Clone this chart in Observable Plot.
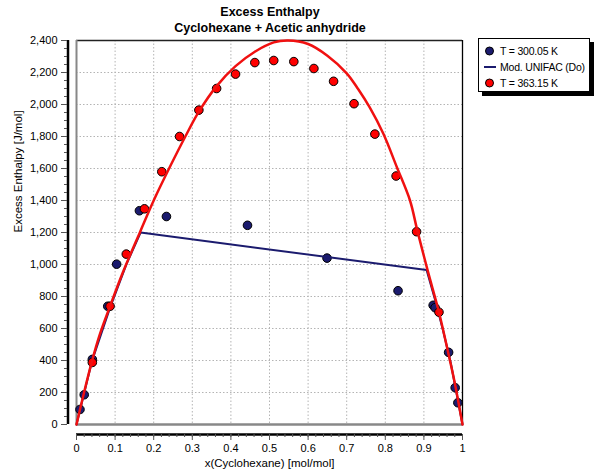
<!DOCTYPE html>
<html>
<head>
<meta charset="utf-8">
<script src="https://cdn.jsdelivr.net/npm/d3@7"></script>
<script src="https://cdn.jsdelivr.net/npm/@observablehq/plot@0.6"></script>
<style>
  body { margin: 0; background: #fff; font-family: "Liberation Sans", Arial, sans-serif; }
  #wrap { position: relative; width: 595px; height: 476px; overflow: hidden; }
  #title { position: absolute; left: 0; top: 4px; width: 540px; text-align: center; font-weight: bold; font-size: 12.5px; line-height: 16px; color: #000; }
  #chart { position: absolute; left: 0; top: 0; }
  #legend { position: absolute; left: 478px; top: 38px; width: 110px; height: 52px; border: 1px solid #000; background: #fff; box-shadow: 4px 4px 0 #000; font-size: 10.5px; }
  .row { position: absolute; left: 5px; height: 14px; line-height: 14px; white-space: nowrap; }
  .row svg { position: absolute; left: 0; top: 0; }
  .row span { position: absolute; left: 16px; top: 0; letter-spacing: -0.2px; }
</style>
</head>
<body>
<div id="wrap">
  <div id="chart"></div>
  <div id="title">Excess Enthalpy<br>Cyclohexane + Acetic anhydride</div>
  <div id="legend"></div>
</div>
<script>
// --- data ---
const blueLabel = "T = 300.05 K";
const modelLabel = "Mod. UNIFAC (Do)";
const redLabel = "T = 363.15 K";

// experimental points, T = 300.05 K
const blueX = [0.009, 0.020, 0.041, 0.081, 0.104, 0.163, 0.233, 0.443, 0.649, 0.833, 0.924, 0.929, 0.964, 0.981, 0.988];
const blueH = [94, 186, 407, 739, 1002, 1336, 1300, 1245, 1040, 836, 745, 730, 451, 230, 136];

// Mod. UNIFAC (Do) model line (300.05 K)
const modelX = [0, 0.04, 0.087, 0.13, 0.166, 0.907, 0.93, 0.95, 0.97, 1];
const modelH = [0, 395, 730, 1005, 1200, 965, 770, 585, 380, 0];

// experimental points, T = 363.15 K
const redX = [0.041, 0.087, 0.129, 0.176, 0.221, 0.267, 0.317, 0.363, 0.412, 0.462, 0.511, 0.563, 0.615, 0.666, 0.719, 0.773, 0.828, 0.881, 0.939];
const redH = [388, 739, 1065, 1348, 1580, 1800, 1965, 2100, 2190, 2262, 2275, 2268, 2225, 2145, 2005, 1815, 1553, 1205, 702];

// red model curve (363.15 K)
const curveX = [0, 0.02, 0.04, 0.06, 0.087, 0.12, 0.165, 0.2, 0.244, 0.282, 0.317, 0.363, 0.412, 0.462, 0.511, 0.548, 0.6, 0.65, 0.7, 0.73, 0.76, 0.795, 0.83, 0.864, 0.883, 0.91, 0.939, 0.963, 0.98, 1];
const curveH = [0, 205, 395, 560, 740, 950, 1205, 1400, 1620, 1800, 1955, 2115, 2240, 2330, 2388, 2400, 2378, 2305, 2195, 2095, 1980, 1817, 1608, 1400, 1212, 960, 702, 449, 260, 0];

// axes
const xTicks = [0, 0.1, 0.2, 0.3, 0.4, 0.5, 0.6, 0.7, 0.8, 0.9, 1];
const xGrid = [0.1, 0.2, 0.3, 0.4, 0.5, 0.6, 0.7, 0.8, 0.9];
const yTicks = [0, 200, 400, 600, 800, 1000, 1200, 1400, 1600, 1800, 2000, 2200, 2400];
const yGrid = [200, 400, 600, 800, 1000, 1200, 1400, 1600, 1800, 2000, 2200];
const xMinor = d3.range(0, 51).map(i => i / 50);
const yMinor = d3.range(0, 49).map(i => i * 50);
const xTitle = "x(Cyclohexane) [mol/mol]";
const yTitle = "Excess Enthalpy [J/mol]";

const navy = "#1b1b6e";
const red = "#ff0000";

const blue = blueX.map((x, i) => ({x, y: blueH[i]}));
const model = modelX.map((x, i) => ({x, y: modelH[i]}));
const reds = redX.map((x, i) => ({x, y: redH[i]}));
const curve = curveX.map((x, i) => ({x, y: curveH[i]}));

const chart = Plot.plot({
  width: 595,
  height: 476,
  marginTop: 40,
  marginBottom: 52,
  marginLeft: 76,
  marginRight: 133,
  style: { fontFamily: "Liberation Sans, Arial, sans-serif", fontSize: "11px", background: "#fff", color: "#000" },
  x: { domain: [0, 1], axis: null },
  y: { domain: [0, 2400], axis: null },
  marks: [
    // dotted grid
    Plot.ruleX(xGrid, { stroke: "#b4b4b4", strokeDasharray: "1.5,2", strokeWidth: 1 }),
    Plot.ruleY(yGrid, { stroke: "#b4b4b4", strokeDasharray: "1.5,2", strokeWidth: 1 }),
    // frame
    Plot.ruleY([2400], { stroke: "#222", strokeWidth: 1.3 }),
    Plot.ruleX([1], { stroke: "#000", strokeWidth: 1.3 }),
    Plot.ruleX([0], { stroke: "#888", strokeWidth: 2 }),
    Plot.ruleY([0], { stroke: "#888", strokeWidth: 2.5 }),
    // detached axis lines
    Plot.ruleX([0], { dx: -8.5, stroke: "#000", strokeWidth: 2.5 }),
    Plot.ruleY([0], { dy: 10, stroke: "#000", strokeWidth: 2.5 }),
    // y axis
    Plot.axisY({ ticks: yMinor, tickSize: 3, dx: -9, tickFormat: () => "", label: null, stroke: "#555" }),
    Plot.axisY({ ticks: yTicks, tickSize: 6, dx: -9, tickPadding: 4, tickFormat: d3.format(","), label: null, stroke: "#555" }),
    // x axis
    Plot.axisX({ anchor: "bottom", ticks: xMinor, tickSize: 3, dy: 10, tickFormat: () => "", label: null, stroke: "#555" }),
    Plot.axisX({ anchor: "bottom", ticks: xTicks, tickSize: 6, dy: 10, tickPadding: 4, tickFormat: d => String(d), label: null, stroke: "#555" }),
    // axis titles
    Plot.text([xTitle], { frameAnchor: "bottom", dy: 42, fontSize: 11.5 }),
    Plot.text([yTitle], { frameAnchor: "left", rotate: -90, dx: -58, fontSize: 11.5 }),
    // data
    Plot.dot(blue, { x: "x", y: "y", r: 4.3, fill: navy, stroke: "#000", strokeWidth: 1 }),
    Plot.line(model, { x: "x", y: "y", stroke: navy, strokeWidth: 2 }),
    Plot.dot(reds, { x: "x", y: "y", r: 4.3, fill: red, stroke: "#000", strokeWidth: 1 }),
    Plot.line(curve, { x: "x", y: "y", stroke: "#f01010", strokeWidth: 2.5, curve: "catmull-rom" })
  ]
});
document.getElementById("chart").appendChild(chart);

// legend
const legend = document.getElementById("legend");
const entries = [
  { label: blueLabel, kind: "dot", color: navy },
  { label: modelLabel, kind: "line", color: navy },
  { label: redLabel, kind: "dot", color: red }
];
entries.forEach((e, i) => {
  const row = document.createElement("div");
  row.className = "row";
  row.style.top = (5 + i * 16) + "px";
  const sym = e.kind === "dot"
    ? `<svg width="14" height="14"><circle cx="5.5" cy="7" r="4" fill="${e.color}" stroke="#000" stroke-width="1"/></svg>`
    : `<svg width="14" height="14"><line x1="0" x2="12" y1="7" y2="7" stroke="${e.color}" stroke-width="2"/></svg>`;
  row.innerHTML = sym + `<span></span>`;
  row.querySelector("span").textContent = e.label;
  legend.appendChild(row);
});
</script>
</body>
</html>
